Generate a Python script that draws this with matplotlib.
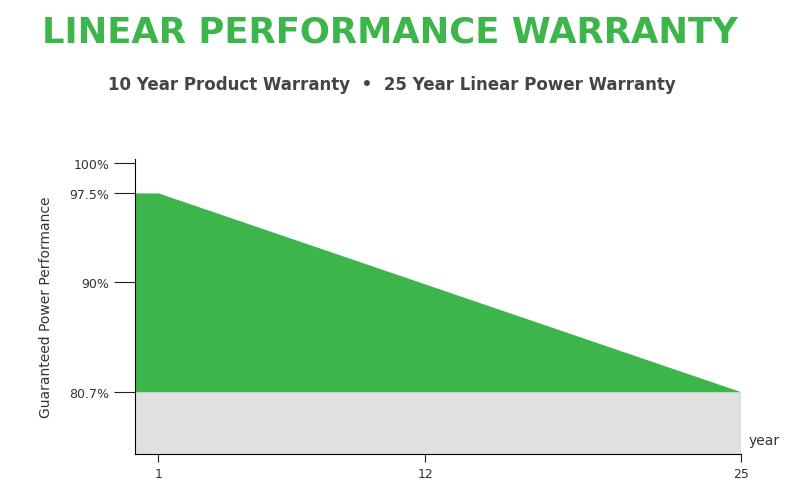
import matplotlib
matplotlib.use("Agg")
import matplotlib.pyplot as plt

years = [0.05, 1, 25]
power = [97.5, 97.5, 80.7]
ytick_vals = [100, 97.5, 90, 80.7]
ytick_labels = ["100%", "97.5%", "90%", "80.7%"]
xtick_vals = [1, 12, 25]

fig = plt.figure(figsize=(8, 5.02), dpi=100)
ax = fig.add_axes([0.169, 0.094, 0.757, 0.588])
green = "#3cb54a"
ax.fill_between([0.05, 25], 75.45, 80.7, color="#e0e0e0", lw=0)
ax.fill_between(years, 80.7, power, color=green, lw=0)
ax.set_xlim(0.05, 25)
ax.set_ylim(75.45, 100.4)
ax.set_yticks(ytick_vals)
ax.set_yticklabels(ytick_labels, fontsize=9, color="#333")
ax.set_xticks(xtick_vals)
ax.set_xticklabels([str(v) for v in xtick_vals], fontsize=9, color="#333")
ax.tick_params(axis="y", length=15, color="#222", width=0.8)
ax.tick_params(axis="x", length=6, color="#222", width=0.8)
for s in ["top", "right"]:
    ax.spines[s].set_visible(False)
ax.set_ylabel("Guaranteed Power Performance", fontsize=10, color="#333", labelpad=12)
ax.text(25.3, 75.45 + 0.6, "year", fontsize=10, color="#333", va="bottom")
fig.text(0.487, 0.935, "LINEAR PERFORMANCE WARRANTY", ha="center", va="center",
         fontsize=25.5, fontweight="bold", color=green)
fig.text(0.49, 0.83, "10 Year Product Warranty  \u2022  25 Year Linear Power Warranty",
         ha="center", va="center", fontsize=12, fontweight="bold", color="#444")
fig.savefig("out.png", dpi=100)
